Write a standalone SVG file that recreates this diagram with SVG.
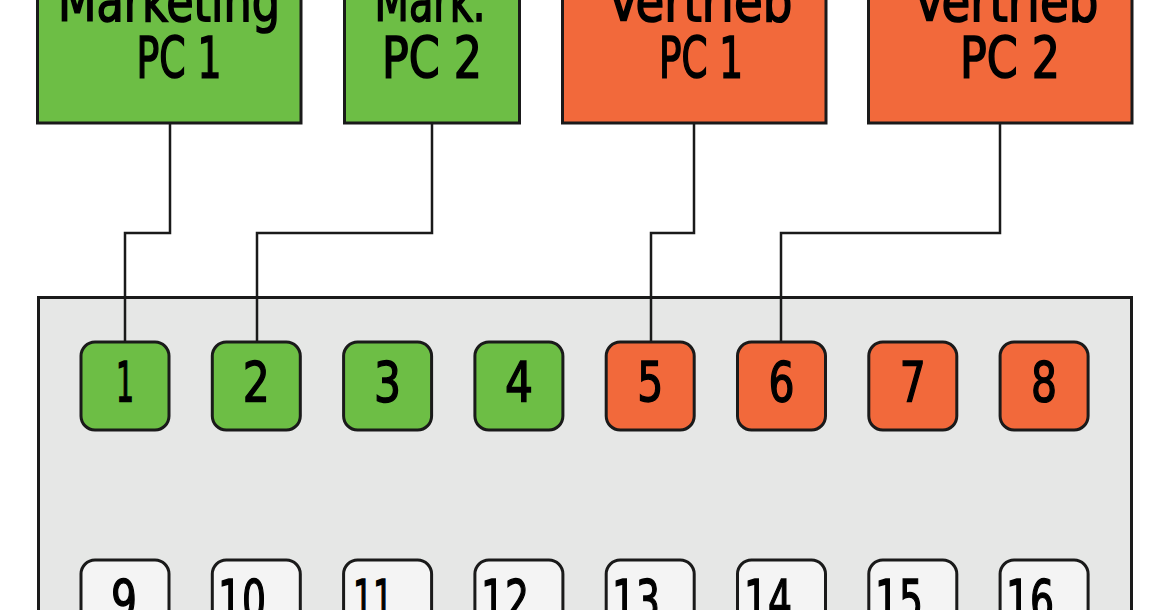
<svg xmlns="http://www.w3.org/2000/svg" width="1170" height="610" viewBox="0 0 1170 610">
<style>
.pc{stroke:#1a1a1a;stroke-width:3}
.g{fill:#6dbe45}
.o{fill:#f2693b}
.w{fill:#f4f4f4}
.port{stroke:#1a1a1a;stroke-width:3}
.t{font-family:"DejaVu Sans Condensed","DejaVu Sans",sans-serif;font-size:57px;fill:#000;stroke:#000;stroke-width:1.6;text-anchor:middle}
.n{font-family:"DejaVu Sans Condensed","DejaVu Sans",sans-serif;font-size:55px;fill:#000;stroke:#000;stroke-width:1.4;text-anchor:middle}
.c{fill:none;stroke:#1a1a1a;stroke-width:2.5}
</style>
<rect x="0" y="0" width="1170" height="610" fill="#fff"/>
<g id="switch"><rect x="38.5" y="297.5" width="1093" height="340" fill="#e6e7e6" stroke="#1a1a1a" stroke-width="3"/></g>
<g id="connectors">
<path class="c" d="M170 123V233H125V342"/>
<path class="c" d="M432 123V233H257V342"/>
<path class="c" d="M694 123V233H651V342"/>
<path class="c" d="M1000 123V233H781V342"/>
</g>
<g id="pc-marketing-1"><rect class="pc g" x="37.5" y="-10" width="263.5" height="133"/><text class="t" x="169" y="21" textLength="222" lengthAdjust="spacingAndGlyphs">Marketing</text><text class="t" x="179" y="78" textLength="85" lengthAdjust="spacingAndGlyphs">PC 1</text></g>
<g id="pc-mark-2"><rect class="pc g" x="344.5" y="-10" width="175" height="133"/><text class="t" x="430" y="21" textLength="111" lengthAdjust="spacingAndGlyphs">Mark.</text><text class="t" x="432" y="78" textLength="100" lengthAdjust="spacingAndGlyphs">PC 2</text></g>
<g id="pc-vertrieb-1"><rect class="pc o" x="562.5" y="-10" width="263.5" height="133"/><text class="t" x="700" y="21" textLength="185" lengthAdjust="spacingAndGlyphs">Vertrieb</text><text class="t" x="701" y="78" textLength="84" lengthAdjust="spacingAndGlyphs">PC 1</text></g>
<g id="pc-vertrieb-2"><rect class="pc o" x="868.5" y="-10" width="263.5" height="133"/><text class="t" x="1006" y="21" textLength="185" lengthAdjust="spacingAndGlyphs">Vertrieb</text><text class="t" x="1010" y="78" textLength="100" lengthAdjust="spacingAndGlyphs">PC 2</text></g>
<g id="port-1"><rect class="port g" x="81" y="342" width="88" height="88" rx="14"/><text class="n" x="125" y="401" textLength="18" lengthAdjust="spacingAndGlyphs">1</text></g>
<g id="port-2"><rect class="port g" x="212.3" y="342" width="88" height="88" rx="14"/><text class="n" x="256.3" y="401" textLength="27" lengthAdjust="spacingAndGlyphs">2</text></g>
<g id="port-3"><rect class="port g" x="343.6" y="342" width="88" height="88" rx="14"/><text class="n" x="387.6" y="401" textLength="27" lengthAdjust="spacingAndGlyphs">3</text></g>
<g id="port-4"><rect class="port g" x="474.9" y="342" width="88" height="88" rx="14"/><text class="n" x="518.9" y="401" textLength="28" lengthAdjust="spacingAndGlyphs">4</text></g>
<g id="port-5"><rect class="port o" x="606.2" y="342" width="88" height="88" rx="14"/><text class="n" x="650.2" y="401" textLength="26" lengthAdjust="spacingAndGlyphs">5</text></g>
<g id="port-6"><rect class="port o" x="737.5" y="342" width="88" height="88" rx="14"/><text class="n" x="781.5" y="401" textLength="26" lengthAdjust="spacingAndGlyphs">6</text></g>
<g id="port-7"><rect class="port o" x="868.8" y="342" width="88" height="88" rx="14"/><text class="n" x="912.8" y="401" textLength="26" lengthAdjust="spacingAndGlyphs">7</text></g>
<g id="port-8"><rect class="port o" x="1000.1" y="342" width="88" height="88" rx="14"/><text class="n" x="1044.1" y="401" textLength="26" lengthAdjust="spacingAndGlyphs">8</text></g>
<g id="port-9"><rect class="port w" x="81" y="560" width="88" height="88" rx="14"/><text class="n" x="124" y="619" textLength="26" lengthAdjust="spacingAndGlyphs">9</text></g>
<g id="port-10"><rect class="port w" x="212.3" y="560" width="88" height="88" rx="14"/><text class="n" x="242" y="619" textLength="48" lengthAdjust="spacingAndGlyphs">10</text></g>
<g id="port-11"><rect class="port w" x="343.6" y="560" width="88" height="88" rx="14"/><text class="n" x="373" y="619" textLength="40" lengthAdjust="spacingAndGlyphs">11</text></g>
<g id="port-12"><rect class="port w" x="474.9" y="560" width="88" height="88" rx="14"/><text class="n" x="505" y="619" textLength="48" lengthAdjust="spacingAndGlyphs">12</text></g>
<g id="port-13"><rect class="port w" x="606.2" y="560" width="88" height="88" rx="14"/><text class="n" x="636" y="619" textLength="48" lengthAdjust="spacingAndGlyphs">13</text></g>
<g id="port-14"><rect class="port w" x="737.5" y="560" width="88" height="88" rx="14"/><text class="n" x="768" y="619" textLength="48" lengthAdjust="spacingAndGlyphs">14</text></g>
<g id="port-15"><rect class="port w" x="868.8" y="560" width="88" height="88" rx="14"/><text class="n" x="899" y="619" textLength="48" lengthAdjust="spacingAndGlyphs">15</text></g>
<g id="port-16"><rect class="port w" x="1000.1" y="560" width="88" height="88" rx="14"/><text class="n" x="1030" y="619" textLength="48" lengthAdjust="spacingAndGlyphs">16</text></g>
</svg>
